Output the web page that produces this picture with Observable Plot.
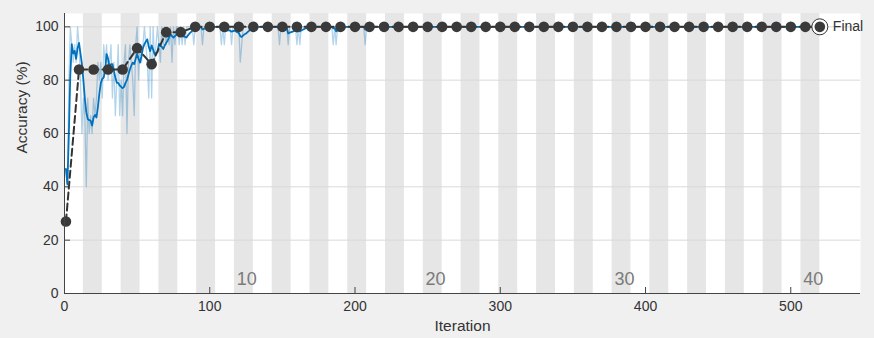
<!DOCTYPE html>
<html><head><meta charset="utf-8">
<script src="https://cdn.jsdelivr.net/npm/d3@7"></script>
<script src="https://cdn.jsdelivr.net/npm/@observablehq/plot@0.6"></script>
<style>
html,body{margin:0;padding:0;background:#f0f0f0;}
#chart{width:874px;height:338px;}
</style></head><body><div id="chart"></div>
<script>
// ---- data ----
const itersPerEpoch = 13;
const numEpochs = 40;
const epochLabels = [10, 20, 30, 40];
const xTicks = [0, 100, 200, 300, 400, 500];
const yTicks = [0, 20, 40, 60, 80, 100];

// training accuracy per iteration (raw mini-batch), iterations 1..520
const trainRaw = [
46.7,40,80,100,93.3,86.7,93.3,86.7,100,93.3,80,60,73.3,
66.7,40,73.3,60,66.7,60,73.3,66.7,73.3,86.7,80,86.7,73.3,
93.3,86.7,93.3,80,86.7,93.3,73.3,86.7,66.7,80,93.3,66.7,80,
66.7,86.7,93.3,60,86.7,93.3,86.7,80,66.7,93.3,100,80,93.3,
86.7,93.3,100,93.3,86.7,73.3,100,73.3,100,86.7,93.3,100,93.3,
86.7,100,93.3,100,93.3,100,93.3,100,86.7,100,93.3,100,100,
93.3,100,93.3,100,93.3,100,100,100,100,100,93.3,100,100,
100,100,100,93.3,100,100,100,100,100,100,100,100,100,
100,100,100,93.3,100,93.3,100,100,100,100,93.3,100,100,
100,100,100,86.7,93.3,100,100,100,100,100,100,100,100,
100,100,100,100,100,100,100,100,100,100,100,100,100,
100,100,100,100,93.3,100,100,100,100,100,93.3,100,100,
100,100,100,93.3,100,93.3,100,100,100,100,100,100,100,
100,100,100,100,100,100,100,100,100,100,100,100,100,
100,100,93.3,100,93.3,100,100,100,100,100,100,100,100,
100,100,100,100,100,100,100,100,100,100,100,93.3,100,
100,100,100,100,100,100,100,100,100,100,100,100,100,
100,100,100,100,100,100,100,100,100,100,100,100,100,
100,100,100,100,100,100,100,100,100,100,100,100,100,
100,100,100,100,100,100,100,100,100,100,100,100,100,
100,100,100,100,100,100,100,100,100,100,100,100,100,
100,100,100,100,100,100,100,100,100,100,100,100,100,
100,100,100,100,100,100,100,100,100,100,100,100,100,
100,100,100,100,100,100,100,100,100,100,100,100,100,
100,100,100,100,100,100,100,100,100,100,100,100,100,
100,100,100,100,100,100,100,100,100,100,100,100,100,
100,100,100,100,100,100,100,100,100,100,100,100,100,
100,100,100,100,100,100,100,100,100,100,100,100,100,
100,100,100,100,100,100,100,100,100,100,100,100,100,
100,100,100,100,100,100,100,100,100,100,100,100,100,
100,100,100,100,100,100,100,100,100,100,100,100,100,
100,100,100,100,100,100,100,100,100,100,100,100,100,
100,100,100,100,100,100,100,100,100,100,100,100,100,
100,100,100,100,100,100,100,100,100,100,100,100,100,
100,100,100,100,100,100,100,100,100,100,100,100,100,
100,100,100,100,100,100,100,100,100,100,100,100,100,
100,100,100,100,100,100,100,100,100,100,100,100,100,
100,100,100,100,100,100,100,100,100,100,100,100,100,
100,100,100,100,100,100,100,100,100,100,100,100,100,
100,100,100,100,100,100,100,100,100,100,100,100,100
];

// smoothed training accuracy, iterations 1..520
const trainSmooth = [
46.7,41,60,82,93.5,90,91,88,92,94,90,86,80,
73,68,65.4,65,64.8,63,66,67,66,70,75,79,80.5,
81,84,89.8,88,85,86,86,83.5,81,79,79,78,77.5,
77,77.5,79,80,82,84,85.5,86.6,86,88,89.8,88,86.6,
89,92,93.5,94.5,95.3,92.5,90.9,93,91.5,89.8,90.2,90.5,93.6,
93,92.5,91.7,93,94,94.8,96,97.3,96.5,96,96.5,97,97.3,
97,96.8,96.6,96.4,96.2,96,96.8,97.5,98,98.6,99,99.3,99.6,
99.8,100,100,99,99.2,99.5,99.7,99.8,100,100,100,100,100,
100,100,100,99,98.5,98.3,98.5,98.6,98.8,98.5,98.2,98.4,98.6,
98.3,98,97.7,96.5,96.2,96.8,97.2,97.5,98,98.5,98.9,99.2,99.4,
99.6,99.8,100,100,100,100,100,100,100,100,100,100,100,
100,100,100,100,99,99.2,99.4,99.5,99.6,99.7,97.5,97.8,98,
98.2,98.4,98.6,98.2,98.5,98.3,98.6,98.9,99.2,99.4,99.6,99.8,100,
100,100,100,100,100,100,100,100,100,100,100,100,100,
100,100,99.4,99.5,98.3,98.6,98.9,99.2,99.4,99.6,99.8,100,100,
100,100,100,100,100,100,100,100,100,100,100,99,99.3,
99.5,99.7,99.8,99.9,100,100,100,100,100,100,100,100,100,
100,100,100,100,100,100,100,100,100,100,100,100,100,
100,100,100,100,100,100,100,100,100,100,100,100,100,
100,100,100,100,100,100,100,100,100,100,100,100,100,
100,100,100,100,100,100,100,100,100,100,100,100,100,
100,100,100,100,100,100,100,100,100,100,100,100,100,
100,100,100,100,100,100,100,100,100,100,100,100,100,
100,100,100,100,100,100,100,100,100,100,100,100,100,
100,100,100,100,100,100,100,100,100,100,100,100,100,
100,100,100,100,100,100,100,100,100,100,100,100,100,
100,100,100,100,100,100,100,100,100,100,100,100,100,
100,100,100,100,100,100,100,100,100,100,100,100,100,
100,100,100,100,100,100,100,100,100,100,100,100,100,
100,100,100,100,100,100,100,100,100,100,100,100,100,
100,100,100,100,100,100,100,100,100,100,100,100,100,
100,100,100,100,100,100,100,100,100,100,100,100,100,
100,100,100,100,100,100,100,100,100,100,100,100,100,
100,100,100,100,100,100,100,100,100,100,100,100,100,
100,100,100,100,100,100,100,100,100,100,100,100,100,
100,100,100,100,100,100,100,100,100,100,100,100,100,
100,100,100,100,100,100,100,100,100,100,100,100,100,
100,100,100,100,100,100,100,100,100,100,100,100,100,
100,100,100,100,100,100,100,100,100,100,100,100,100,
100,100,100,100,100,100,100,100,100,100,100,100,100
];

// validation accuracy
const valIters = [1,10,20,30,40,50,60,70,80,90,100,110,120,130,140,150,160,170,180,190,200,
  210,220,230,240,250,260,270,280,290,300,310,320,330,340,350,360,370,380,390,400,
  410,420,430,440,450,460,470,480,490,500,510,520];
const valAcc = [27,84,84,84,84,92,86,98,98,100,100,100,100,100,100,100,100,100,100,100,100,
  100,100,100,100,100,100,100,100,100,100,100,100,100,100,100,100,100,100,100,100,
  100,100,100,100,100,100,100,100,100,100,100,100];
const finalIter = 520;
const finalAcc = 100;

// ---- build ----
const shadedEpochs = d3.range(2, numEpochs + 1, 2);
const rawData = trainRaw.map((v, i) => ({it: i + 1, v}));
const smoothData = trainSmooth.map((v, i) => ({it: i + 1, v}));
const valData = valIters.map((it, i) => ({it, v: valAcc[i]}));
const ff = "'Liberation Sans', Arial, Helvetica, sans-serif";

const chart = Plot.plot({
  width: 874, height: 338,
  marginLeft: 64, marginRight: 14, marginTop: 13, marginBottom: 45,
  style: {background: "#f0f0f0", fontFamily: ff, fontSize: "14px", color: "#333"},
  x: {domain: [0, 548]},
  y: {domain: [0, 105]},
  marks: [
    Plot.frame({fill: "white", stroke: "none"}),
    Plot.rect(shadedEpochs, {x1: d => (d - 1) * itersPerEpoch, x2: d => d * itersPerEpoch, fill: "#e6e6e6"}),
    Plot.gridY(yTicks, {stroke: "#d9d9d9", strokeOpacity: 1}),
    Plot.line(rawData, {x: "it", y: "v", stroke: "#0072BD", strokeOpacity: 0.3, strokeWidth: 1.3}),
    Plot.line(smoothData, {x: "it", y: "v", stroke: "#0072BD", strokeWidth: 1.8}),
    Plot.line(valData, {x: "it", y: "v", stroke: "#333", strokeWidth: 2, strokeDasharray: "7,4"}),
    Plot.dot(valData, {x: "it", y: "v", r: 5.3, fill: "#3a3a3a", stroke: "none"}),
    Plot.dot([finalAcc], {x: () => finalIter, y: d => d, r: 8, fill: "white", stroke: "#333", strokeWidth: 1}),
    Plot.dot([finalAcc], {x: () => finalIter, y: d => d, r: 5.3, fill: "#3a3a3a", stroke: "none"}),
    Plot.text(["Final"], {x: () => finalIter, y: () => finalAcc, dx: 13, textAnchor: "start", fontSize: 14, fill: "#333"}),
    Plot.text(epochLabels, {x: d => d * itersPerEpoch - 4.5, text: d => String(d), frameAnchor: "bottom", lineAnchor: "bottom", dy: -9, fontSize: 18, fill: "#7a7a7a"}),
    Plot.ruleX([0], {stroke: "#444", strokeWidth: 1}),
    Plot.ruleY([0], {stroke: "#444", strokeWidth: 1}),
    Plot.axisX({ticks: xTicks, tickSize: 0, tickPadding: 8, label: null, fontSize: 14, fill: "#333"}),
    Plot.axisX({ticks: xTicks, tickSize: 6, dy: -6, text: null, label: null, stroke: "#444"}),
    Plot.axisY({ticks: yTicks, tickSize: 0, tickPadding: 6, label: null, fontSize: 14, fill: "#333"}),
    Plot.axisY({ticks: yTicks, tickSize: 6, dx: 6, text: null, label: null, stroke: "#444"}),
    Plot.text(["Iteration"], {frameAnchor: "bottom", dy: 33, lineAnchor: "middle", fontSize: 15.5, fill: "#333"}),
    Plot.text(["Accuracy (%)"], {frameAnchor: "left", dx: -42, rotate: -90, lineAnchor: "middle", fontSize: 15.5, fill: "#333"})
  ]
});
document.getElementById("chart").appendChild(chart);
</script></body></html>
